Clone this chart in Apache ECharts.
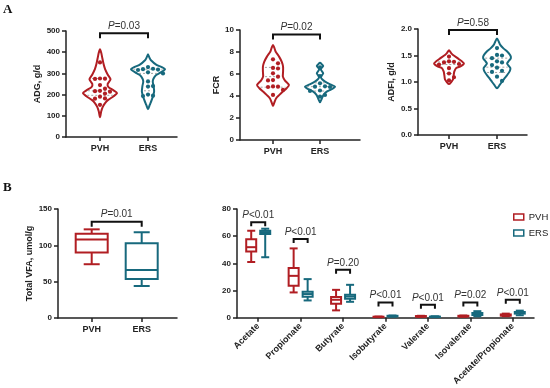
<!DOCTYPE html>
<html><head><meta charset="utf-8">
<script src="https://cdn.jsdelivr.net/npm/echarts@6/dist/echarts.min.js"></script>
<style>html,body{margin:0;padding:0;background:#fff}#c{width:550px;height:388px}</style>
</head><body><div id="c"></div>
<script>
// ---------- DATA ----------
const groups = ['PVH', 'ERS'];
// Panel A: individual values
const adgPVH = [352, 276, 275, 274, 245, 228, 218, 216, 214, 205, 190, 182, 181, 152];
const adgERS = [330, 322, 320, 318, 316, 305, 300, 262, 240, 238, 200, 195, 193];
const fcrPVH = [7.33, 6.97, 6.55, 6.5, 6.06, 5.76, 5.45, 5.42, 4.87, 4.85, 4.82, 4.55, 4.1];
const fcrERS = [6.6, 5.82, 5.15, 4.88, 4.85, 4.82, 4.5, 4.46, 4.09, 3.95];
const adfiPVH = [1.48, 1.39, 1.38, 1.37, 1.34, 1.33, 1.26, 1.16, 1.09, 1.03];
const adfiERS = [1.64, 1.51, 1.50, 1.45, 1.39, 1.37, 1.32, 1.27, 1.21, 1.19, 1.10, 1.02];
// violin density profiles: [value, relative density]
const adgPVHDens = [[414,0],[395,0.08],[379,0.12],[348,0.2],[320,0.3],[295,0.45],[272,0.62],[250,0.45],[235,0.5],[220,0.8],[207,1.0],[192,0.8],[175,0.48],[160,0.3],[143,0.17],[120,0.07],[93,0]];
const adgERSDens = [[390,0],[375,0.08],[363,0.16],[340,0.5],[330,0.8],[319,1.0],[305,0.75],[292,0.48],[275,0.32],[261,0.28],[240,0.33],[214,0.36],[195,0.3],[175,0.22],[151,0.1],[131,0]];
const fcrPVHDens = [[8.64,0],[8.4,0.08],[8.03,0.17],[7.58,0.38],[7.1,0.55],[6.67,0.63],[6.2,0.63],[5.76,0.62],[5.4,0.75],[5.0,1.0],[4.7,0.85],[4.4,0.62],[4.1,0.4],[3.8,0.2],[3.4,0.08],[3.1,0]];
const fcrERSDens = [[7.03,0],[6.9,0.1],[6.73,0.2],[6.55,0.1],[6.42,0.05],[6.25,0.12],[6.06,0.2],[5.88,0.12],[5.7,0.06],[5.5,0.15],[5.3,0.32],[5.05,0.65],[4.85,0.94],[4.6,0.7],[4.4,0.42],[4.1,0.22],[3.8,0.12],[3.43,0]];
const adfiPVHDens = [[1.6,0],[1.55,0.13],[1.51,0.27],[1.43,0.67],[1.35,1.0],[1.3,0.8],[1.26,0.47],[1.2,0.36],[1.16,0.33],[1.1,0.3],[1.05,0.27],[1.0,0.15],[0.96,0]];
const adfiERSDens = [[1.82,0],[1.76,0.12],[1.7,0.22],[1.63,0.45],[1.57,0.7],[1.5,0.9],[1.45,0.93],[1.4,0.8],[1.35,0.68],[1.3,0.8],[1.26,0.9],[1.2,0.85],[1.13,0.68],[1.06,0.48],[1.0,0.33],[0.94,0.17],[0.88,0]];
// quartile lines [Q1, median, Q3]
const adgQ = [[197, 218, 276], [218, 300, 320]];
const fcrQ = [[4.8, 5.76, 6.6], [4.45, 4.85, 5.2]];
const adfiQ = [[1.16, 1.33, 1.38], [1.18, 1.28, 1.45]];
// Panel B: box stats [min, Q1, median, Q3, max]
const vfaPVH = [74, 90, 108, 116, 122];
const vfaERS = [44, 53.5, 66, 103, 118];
const acids = ['Acetate', 'Propionate', 'Butyrate', 'Isobutyrate', 'Valerate', 'Isovalerate', 'Acetate/Propionate'];
const acidPVH = [[41,48.7,51.9,57.8,64],[18.6,23.5,30.8,36.5,51],[5.4,10.3,13.2,15.2,20.5],[0.4,0.5,0.6,0.7,0.8],[0.6,0.8,1.0,1.2,1.4],[0.7,0.9,1.2,1.4,1.6],[1.1,1.5,1.8,2.4,3.0]];
const acidERS = [[44.5,61.6,63,64,65.5],[12.7,15.4,17.4,19.1,28.4],[11.7,13.9,15.6,16.9,24.2],[0.8,1.0,1.2,1.4,1.6],[0.4,0.6,0.7,0.8,1.0],[1.0,2.0,2.8,3.5,4.8],[1.8,3.0,3.6,4.2,5.2]];
// P values and bracket heights
const pTop = ['0.03', '0.02', '0.58'];
const bracketTop = [489, 9.6, 1.98];
const pVfa = '0.01';
const bracketVfa = 132.5;
const pAcid = ['<0.01', '<0.01', '=0.20', '<0.01', '<0.01', '=0.02', '<0.01'];
const bracketAcid = [70.2, 58, 35.2, 11.2, 9.5, 11.2, 13.2];

// ---------- STYLE ----------
const RED = '#B11E23', TEAL = '#17697D', AX = '#222', PTXT = '#333';
const FONT = 'Liberation Sans, Arial, sans-serif';

function interp(prof, v) {
  for (let i = 0; i < prof.length - 1; i++) {
    const a = prof[i], b = prof[i + 1];
    if ((v <= a[0] && v >= b[0])) { const t = (a[0] - v) / (a[0] - b[0]); return a[1] + t * (b[1] - a[1]); }
  }
  return 0;
}

function violinSeries(gridIdx, gi, pts, prof, quart, scale, color) {
  let layout = [];
  const cx = gi + 1;
  return {
    type: 'custom', xAxisIndex: gridIdx, yAxisIndex: gridIdx, clip: false, silent: true,
    data: pts.map(v => [cx, v]),
    renderItem(params, api) {
      const children = [];
      if (params.dataIndex === 0) {
        const left = prof.map(([v, r]) => api.coord([cx - r * scale, v]));
        const right = prof.slice(1, -1).reverse().map(([v, r]) => api.coord([cx + r * scale, v]));
        children.push({ type: 'polygon', shape: { points: left.concat(right), smooth: 0.25 }, style: { fill: '#fff', stroke: color, lineWidth: 2 } });
        quart.forEach(q => {
          const r = interp(prof, q) * scale;
          const a = api.coord([cx - r, q]), b = api.coord([cx + r, q]);
          children.push({ type: 'line', shape: { x1: a[0] + 2, y1: a[1], x2: b[0] - 2, y2: b[1] }, style: { stroke: '#8c8c8c', lineWidth: 0.8, lineDash: [2, 2] } });
        });
        // beeswarm layout of points
        layout = [];
        const sp = 5;
        const order = [0, 1, -1, 2, -2, 3, -3];
        for (let i = 0; i < pts.length; i++) {
          const c = api.coord([cx, pts[i]]);
          let pos = c;
          for (const k of order) {
            const x = c[0] + k * sp;
            if (layout.every(p => Math.hypot(p[0] - x, p[1] - c[1]) >= sp * 0.95)) { pos = [x, c[1]]; break; }
          }
          layout.push(pos);
        }
      }
      const p = layout[params.dataIndex] || api.coord([cx, api.value(1)]);
      children.push({ type: 'circle', shape: { cx: p[0], cy: p[1], r: 2.1 }, style: { fill: color } });
      return { type: 'group', children };
    }
  };
}

function boxSeries(gridIdx, rows, color, pxOffset, halfBox, halfCap, name) {
  return {
    type: 'custom', name, xAxisIndex: gridIdx, yAxisIndex: gridIdx, clip: false, silent: true,
    data: rows,
    renderItem(params, api) {
      const x = api.value(0);
      const P = v => { const c = api.coord([x, v]); return [c[0] + pxOffset, c[1]]; };
      const mn = P(api.value(1)), q1 = P(api.value(2)), md = P(api.value(3)), q3 = P(api.value(4)), mx = P(api.value(5));
      const st = { stroke: color, lineWidth: 2, fill: null };
      const ln = (x1, y1, x2, y2) => ({ type: 'line', shape: { x1, y1, x2, y2 }, style: st });
      return { type: 'group', children: [
        ln(mn[0], mn[1], q1[0], q1[1]),
        ln(q3[0], q3[1], mx[0], mx[1]),
        ln(mn[0] - halfCap, mn[1], mn[0] + halfCap, mn[1]),
        ln(mx[0] - halfCap, mx[1], mx[0] + halfCap, mx[1]),
        { type: 'rect', shape: { x: q3[0] - halfBox, y: q3[1], width: 2 * halfBox, height: q1[1] - q3[1] }, style: { stroke: color, lineWidth: 2, fill: '#fff' } },
        ln(md[0] - halfBox, md[1], md[0] + halfBox, md[1])
      ] };
    }
  };
}

function bracketSeries(gridIdx, rows, labels, offA, offB, leg) {
  return {
    type: 'custom', xAxisIndex: gridIdx, yAxisIndex: gridIdx, clip: false, silent: true,
    data: rows,
    renderItem(params, api) {
      const a = api.coord([api.value(0), api.value(2)]);
      const b = api.coord([api.value(1), api.value(2)]);
      const x1 = a[0] + offA, x2 = b[0] + offB, y = a[1];
      return { type: 'group', children: [
        { type: 'polyline', shape: { points: [[x1, y + leg], [x1, y], [x2, y], [x2, y + leg]] }, style: { stroke: '#111', lineWidth: 2, fill: null } },
        { type: 'text', style: { text: '{i|P}' + labels[params.dataIndex], x: (x1 + x2) / 2, y: y - 2, align: 'center', verticalAlign: 'bottom', fontSize: 10, fontFamily: FONT, fill: PTXT,
          rich: { i: { fontStyle: 'italic', fontSize: 10, fontFamily: FONT, fill: PTXT } } } }
      ] };
    }
  };
}

// ---------- AXES ----------
const grids = [
  { left: 66, top: 31, width: 111, height: 106 },
  { left: 240, top: 30, width: 120, height: 110 },
  { left: 418, top: 29, width: 109, height: 106 },
  { left: 58, top: 209, width: 119, height: 109 },
  { left: 237, top: 209, width: 297, height: 109 }
];
const xr = [[0.292, 2.604], [0.298, 2.851], [0.354, 2.625], [0.326, 2.706]];
const lineSt = { color: AX, width: 1.5 };
const xAxes = xr.map((r, i) => ({
  type: 'value', gridIndex: i, min: r[0], max: r[1],
  splitLine: { show: false },
  axisLine: { show: true, onZero: false, lineStyle: lineSt },
  axisTick: { show: true, customValues: [1, 2], length: 4, lineStyle: lineSt },
  axisLabel: { customValues: [1, 2], formatter: v => groups[Math.round(v) - 1] || '', fontWeight: 'bold', fontSize: 9, color: AX, fontFamily: FONT, margin: 7 }
}));
xAxes.push({
  type: 'category', gridIndex: 4, data: acids,
  axisLine: { show: true, lineStyle: lineSt },
  axisTick: { show: true, alignWithLabel: true, length: 4, lineStyle: lineSt },
  axisLabel: { interval: 0, rotate: 45, fontWeight: 'bold', fontSize: 9, color: AX, fontFamily: FONT, margin: 7 }
});
const yDefs = [
  { max: 500, interval: 100, name: 'ADG, g/d', gap: 24, dec: 0 },
  { max: 10, interval: 2, name: 'FCR', gap: 18, dec: 0 },
  { max: 2, interval: 0.5, name: 'ADFI, g/d', gap: 22, dec: 1 },
  { max: 150, interval: 50, name: 'Total VFA, umol/g', gap: 24, dec: 0 },
  { max: 80, interval: 20, name: '', gap: 20, dec: 0 }
];
const yAxes = yDefs.map((d, i) => ({
  type: 'value', gridIndex: i, min: 0, max: d.max, interval: d.interval,
  splitLine: { show: false },
  axisLine: { show: true, lineStyle: lineSt },
  axisTick: { show: true, length: 4, lineStyle: lineSt },
  axisLabel: { fontWeight: 'bold', fontSize: 8, color: AX, fontFamily: FONT, margin: 6, formatter: v => v.toFixed(d.dec) },
  name: d.name, nameLocation: 'middle', nameGap: d.gap, nameRotate: 90,
  nameTextStyle: { fontWeight: 'bold', fontSize: 9, color: AX, fontFamily: FONT }
}));

// ---------- SERIES ----------
const series = [
  violinSeries(0, 0, adgPVH, adgPVHDens, adgQ[0], 0.354, RED),
  violinSeries(0, 1, adgERS, adgERSDens, adgQ[1], 0.354, TEAL),
  violinSeries(1, 0, fcrPVH, fcrPVHDens, fcrQ[0], 0.34, RED),
  violinSeries(1, 1, fcrERS, fcrERSDens, fcrQ[1], 0.34, TEAL),
  violinSeries(2, 0, adfiPVH, adfiPVHDens, adfiQ[0], 0.31, RED),
  violinSeries(2, 1, adfiERS, adfiERSDens, adfiQ[1], 0.31, TEAL),
  bracketSeries(0, [[1, 2, bracketTop[0]]], ['=' + pTop[0]], 0, 0, 5),
  bracketSeries(1, [[1, 2, bracketTop[1]]], ['=' + pTop[1]], 0, 0, 5),
  bracketSeries(2, [[1, 2, bracketTop[2]]], ['=' + pTop[2]], 0, 0, 5),
  boxSeries(3, [[1].concat(vfaPVH)], RED, 0, 16, 8),
  boxSeries(3, [[2].concat(vfaERS)], TEAL, 0, 16, 8),
  bracketSeries(3, [[1, 2, bracketVfa]], ['=' + pVfa], 0, 0, 5),
  boxSeries(4, acidPVH.map((b, i) => [i].concat(b)), RED, -7, 5, 4, 'PVH'),
  boxSeries(4, acidERS.map((b, i) => [i].concat(b)), TEAL, 7, 5, 4, 'ERS'),
  bracketSeries(4, acids.map((c, i) => [i, i, bracketAcid[i]]), pAcid, -7, 7, 4)
];

const chart = echarts.init(document.getElementById('c'));
chart.setOption({
  animation: false,
  backgroundColor: '#fff',
  grid: grids,
  xAxis: xAxes,
  yAxis: yAxes,
  legend: {
    orient: 'vertical', left: 508, top: 207, itemWidth: 10, itemHeight: 6, itemGap: 6, selectedMode: false,
    textStyle: { fontSize: 9.5, color: AX, fontFamily: FONT },
    data: [
      { name: 'PVH', icon: 'path://M0,0L10,0L10,6L0,6Z', itemStyle: { color: '#fff', borderColor: RED, borderWidth: 1.5 } },
      { name: 'ERS', icon: 'path://M0,0L10,0L10,6L0,6Z', itemStyle: { color: '#fff', borderColor: TEAL, borderWidth: 1.5 } }
    ]
  },
  graphic: [
    { type: 'text', left: 3, top: 3, style: { text: 'A', font: 'bold 13px "Liberation Serif", serif', fill: '#111' } },
    { type: 'text', left: 3, top: 181, style: { text: 'B', font: 'bold 13px "Liberation Serif", serif', fill: '#111' } }
  ],
  series
});
</script>
</body></html>
